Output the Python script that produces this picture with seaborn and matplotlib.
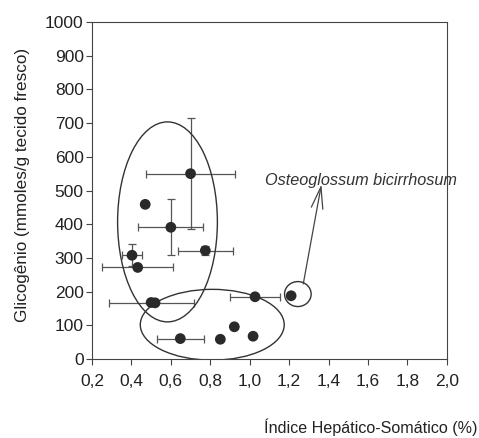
import numpy as np
import pandas as pd
import matplotlib
matplotlib.use("Agg")
import matplotlib.pyplot as plt
from matplotlib.patches import Ellipse
from matplotlib.ticker import FuncFormatter, MultipleLocator
import seaborn as sns

# Índice hepato-somático (%) x glicogênio hepático
ihs = [0.70, 0.47, 0.60, 0.775, 0.403, 0.432, 0.50, 0.52, 1.027, 1.21, 0.648, 0.851, 0.922, 1.017]
glicogenio = [550, 459, 391, 322, 308, 272, 168, 167, 185, 188, 61, 59, 96, 68]
ihs_err = [0.225, 0, 0.165, 0.14, 0.053, 0.18, 0.215, 0, 0.125, 0, 0.12, 0, 0, 0]
glic_err = [165, 0, 83, 14, 32, 0, 0, 0, 0, 0, 0, 0, 0, 0]

sns.set_theme(style="white")
plt.rcParams['font.family'] = ['Liberation Sans', 'DejaVu Sans']

df = pd.DataFrame({"ihs": ihs, "glic": glicogenio, "xerr": ihs_err, "yerr": glic_err})

fig = plt.figure(figsize=(4.79, 4.38), dpi=100)
ax = fig.add_axes([0.192, 0.180, 0.741, 0.770])

# barras de erro (só onde existem)
for _, r in df.iterrows():
    if r["xerr"] > 0:
        ax.errorbar(r["ihs"], r["glic"], xerr=r["xerr"], fmt="none",
                    ecolor="#555555", elinewidth=0.9, capsize=3, capthick=0.9)
    if r["yerr"] > 0:
        ax.errorbar(r["ihs"], r["glic"], yerr=r["yerr"], fmt="none",
                    ecolor="#555555", elinewidth=0.9, capsize=3, capthick=0.9)

sns.scatterplot(data=df, x="ihs", y="glic", ax=ax, color="#2a2a2a",
                s=60, edgecolor="none", zorder=3)

# agrupamentos
for (cx, cy, w, h) in [(0.583, 407, 0.506, 593), (0.81, 102, 0.73, 210), (1.244, 193, 0.135, 74)]:
    ax.add_patch(Ellipse((cx, cy), w, h, fill=False, edgecolor="#333333", lw=1.0, zorder=2))

ax.annotate("", xy=(1.366, 526), xytext=(1.269, 215),
            arrowprops=dict(arrowstyle="->,head_length=1.3,head_width=0.35",
                            color="#444444", lw=0.9))
ax.text(1.078, 531, "Osteoglossum bicirrhosum", style="italic", fontsize=11.7,
        color="#333333", ha="left", va="center")

ax.set_xlim(0.2, 2.0)
ax.set_ylim(0, 1000)
ax.xaxis.set_major_locator(MultipleLocator(0.2))
ax.yaxis.set_major_locator(MultipleLocator(100))
ax.xaxis.set_major_formatter(FuncFormatter(lambda v, p: f"{v:.1f}".replace(".", ",")))
ax.tick_params(axis="both", which="major", direction="out", length=4, width=0.8,
               color="#444444", labelsize=12.5, labelcolor="#222222")
ax.tick_params(axis="x", pad=7)
ax.tick_params(axis="y", pad=2)
ax.tick_params(left=True, bottom=True)
for s in ax.spines.values():
    s.set_color("#444444")
    s.set_linewidth(0.8)

ax.set_xlabel("Índice Hepático-Somático (%)", fontsize=11.6, color="#222222")
ax.set_ylabel("Glicogênio (mmoles/g tecido fresco)", fontsize=12.3, color="#222222")
ax.xaxis.set_label_coords(1.085, -0.202)
ax.xaxis.label.set_ha("right")
ax.xaxis.label.set_va("center")
ax.yaxis.set_label_coords(-0.197, 0.516)
ax.yaxis.label.set_va("center")

fig.savefig("out.png", dpi=100)
